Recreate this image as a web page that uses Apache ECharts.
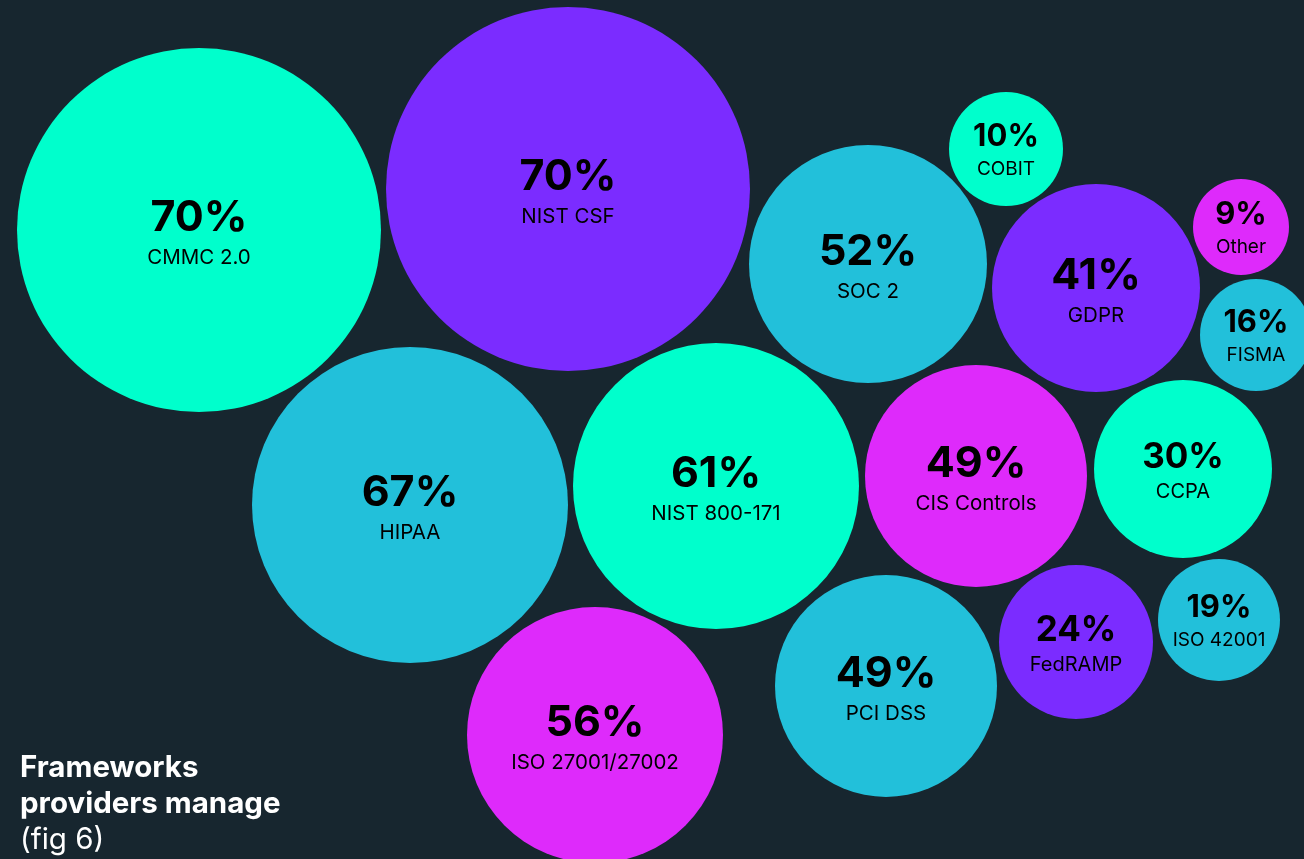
<!DOCTYPE html>
<html>
<head>
<meta charset="utf-8">
<title>Frameworks providers manage</title>
<script src="https://cdn.jsdelivr.net/npm/echarts@6/dist/echarts.min.js"></script>
<style>
  html, body { margin: 0; padding: 0; background: #17262f; }
  #chart { width: 1304px; height: 859px; }
</style>
</head>
<body>
<div id="chart"></div>
<script>
// Share of providers managing each framework
const frameworks = ['CMMC 2.0', 'NIST CSF', 'SOC 2', 'COBIT', 'GDPR', 'Other', 'FISMA',
  'HIPAA', 'NIST 800-171', 'CIS Controls', 'CCPA', 'ISO 27001/27002', 'PCI DSS', 'FedRAMP', 'ISO 42001'];
const shares = [70, 70, 52, 10, 41, 9, 16, 67, 61, 49, 30, 56, 49, 24, 19];
// colour group of each bubble: 0 mint, 1 violet, 2 cyan, 3 magenta
const groups = [0, 1, 2, 0, 1, 3, 2, 2, 0, 3, 0, 3, 2, 1, 2];

// packed layout, in chart units (centre x, centre y, radius)
const bubbleX = [199, 568, 868, 1006, 1096, 1241, 1256, 410, 716, 976, 1183, 595, 886, 1076, 1219];
const bubbleY = [230, 189, 264, 149, 288, 227, 335, 505, 486, 476, 469, 735, 686, 642, 620];
const bubbleR = [182, 182, 119, 57, 104, 48, 56, 158, 143, 111, 89, 128, 111, 77, 61];

const palette = ['#00ffcc', '#7b2cff', '#22c0da', '#de2afb'];
const ink = '#131d26';

const rows = frameworks.map((name, i) => [bubbleX[i], bubbleY[i], bubbleR[i], shares[i], name, groups[i]]);

const chart = echarts.init(document.getElementById('chart'));
chart.setOption({
  backgroundColor: '#17262f',
  animation: false,
  title: {
    left: 15,
    top: 745,
    text: '{b|Frameworks}\n{b|providers manage}\n{n|(fig 6)}',
    textStyle: {
      rich: {
        b: { fontFamily: 'Inter', fontSize: 29.5, fontWeight: 700, color: '#ffffff', lineHeight: 36 },
        n: { fontFamily: 'Inter', fontSize: 29.5, fontWeight: 400, color: '#ffffff', lineHeight: 36 }
      }
    }
  },
  grid: { left: 0, right: 0, top: 0, bottom: 0 },
  xAxis: { type: 'value', min: 0, max: 1304, show: false },
  yAxis: { type: 'value', min: 0, max: 859, inverse: true, show: false },
  series: [{
    type: 'custom',
    coordinateSystem: 'cartesian2d',
    clip: false,
    data: rows,
    encode: { x: 0, y: 1 },
    renderItem: function (params, api) {
      const c = api.coord([api.value(0), api.value(1)]);
      const r = api.size([api.value(2), 0])[0];
      const share = api.value(3);
      const name = rows[params.dataIndex][4];
      const color = palette[api.value(5)];
      const pctSize = r >= 100 ? 43 : (r >= 75 ? 35 : 31);
      const nameSize = r >= 100 ? 20.5 : (r >= 75 ? 20 : 19);
      return {
        type: 'group',
        children: [
          {
            type: 'circle',
            shape: { cx: c[0], cy: c[1], r: r },
            style: { fill: color }
          },
          {
            type: 'text',
            x: c[0],
            y: c[1] + 2,
            style: {
              text: '{p|' + share + '%}\n{l|' + name + '}',
              align: 'center',
              verticalAlign: 'middle',
              rich: {
                p: { fontFamily: 'Inter', fontSize: pctSize, fontWeight: 700, color: ink, lineHeight: pctSize * 1.2, align: 'center' },
                l: { fontFamily: 'Inter', fontSize: nameSize, fontWeight: 400, color: ink, lineHeight: 28, align: 'center' }
              }
            }
          }
        ]
      };
    }
  }]
});
</script>
</body>
</html>
